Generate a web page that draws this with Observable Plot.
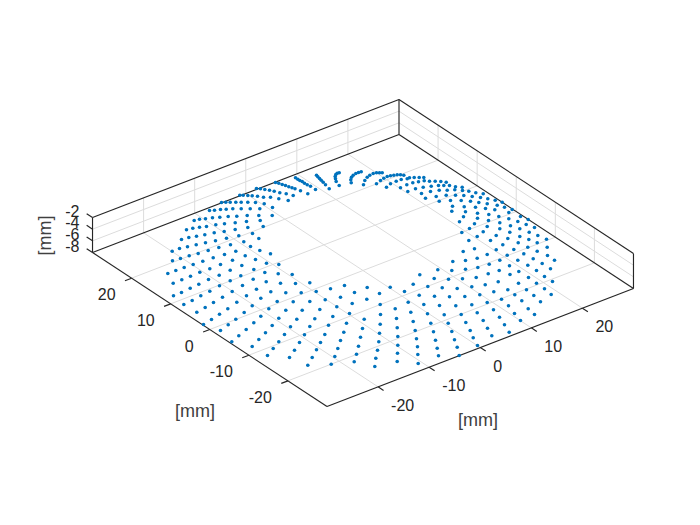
<!DOCTYPE html>
<html>
<head>
<meta charset="utf-8">
<script src="https://cdn.jsdelivr.net/npm/d3@7"></script>
<script src="https://cdn.jsdelivr.net/npm/@observablehq/plot@0.6"></script>
<style>html,body{margin:0;padding:0;background:#fff}svg{display:block}</style>
</head>
<body>
<div id="chart"></div>
<script>
// Axis values in mm
const xTicks = [-20, -10, 0, 10, 20];
const yTicks = [-20, -10, 0, 10, 20];
const zTicks = [-2, -4, -6, -8];
const xRange = [-30, 30];
const yRange = [-30, 30];
const zRange = [-8, -2];
const axisUnit = "[mm]";

const dotReadings = [
[275,182],[278.3,182.7],[281.7,184],[285,185],[288.3,186.3],[291.5,187.3],[294.5,188.3],[300,190.3],[307.3,193.3],
[256,188],[260,188.3],[264.3,189],[269,189.7],[273.7,190.7],[279.3,192.3],[285.7,193.3],[292.7,195],
[239.3,194.7],[242.7,194.7],[247.3,195],[251.7,195.3],[257,195.7],[263,196.7],[270,196.7],[278.3,198.3],[287.7,200],
[221,202],[225.3,201.7],[229.7,201.7],[235.3,201.7],[240.7,201.7],[247.3,201.7],[255,202],[263.7,203.3],[272,207],
[209,210],[214,209.7],[220,209],[225.7,208.7],[232.3,208.3],[240.7,208.3],[249.7,208.3],[259.3,208.3],
[193.7,220],[199,218.7],[205,218.3],[212,217.3],[219.3,216.7],[227.7,216],[236.3,215.7],[246.7,215],[258.3,215],[271.7,215],
[186,229.3],[192.3,227.7],[199,226.7],[206,226],[215.3,224.3],[224,223.3],[234.7,222.3],[246,221],[259.7,220],
[181,239],[188.3,237],[196,235.7],[204.3,234.3],[213.7,232.3],[223.7,231],[234.7,229],[247.3,227],[262.7,226],
[226,237.7],[238.3,235.3],[252,233],[258.3,238],
[295,177.3],[297.3,178.7],[299.3,180],[301.7,181],[304,182.7],[306.7,184.3],[310,185.7],[315,189],
[316,174.7],[317.3,176.3],[319,178],[320.7,179.7],[322.7,181.7],[325,184.3],[328.7,188.3],
[338.7,172.3],[336.7,172.7],[335.3,174],[334.7,176],[335,178.3],[335.7,181],[338.7,185],
[360.7,171.3],[358,172],[355.3,173],[352.7,174.7],[351,176.7],[350.3,179.3],[350.7,182.3],
[381.7,172.3],[379,172.3],[376,172.3],[372.7,173],[369.3,174.7],[366.7,176.7],[364.3,180],[363,184.3],
[403.3,174.7],[400,174.3],[396.7,174.3],[393.3,174.7],[390,175.3],[386.7,176],[383.3,177.7],[380,180],[376,183.3],
[406.7,178.3],[400.7,179],[395.7,180.7],[390,183.3],[386,186.7],
[409,177.3],[413.7,177],[418.7,177],[423.3,177],
[412.3,182.3],[418,181.3],[423.7,180.3],[429,180.7],[434.7,180.7],[440.3,181],[445.7,181.7],
[400,187.3],[406.3,184.3],[415,188.3],[422.7,186.7],[430.7,185.7],[438,185],[443.3,185],[449,185],[455,186.3],[461.7,186.7],
[407.3,191],[421,193],[430,191],[438.7,189.7],[446.7,189.7],[454.3,189.3],[462,190],[468.3,190.7],[475.3,192.3],[482.7,193.3],
[425,197.7],[435.7,196],[445.7,194.7],[455,194.7],[463.3,195],[471.7,196],[480,197],[487.3,198.3],[494.7,199.7],[501.7,201.7],
[438.7,200.7],[450,200],[460.7,200],[470,200.7],[478.3,202],[486.7,203.3],[496.7,204.7],[504,206.7],
[452,205.7],[463.7,206.3],[475,206.7],[485,208],[494.3,209.3],[511.7,209],
[451.3,210.7],[465,211.3],[477,212.7],[488.3,214],[498.3,216],[508.3,212],[520,216],
[463,216.3],[477,217.7],[488,220],[508.3,218.3],[517.3,221],[527.7,219],
[459,221.3],[474,223.3],[486.7,226],[499.3,222.3],[499.3,228.3],[510,225.3],[519.3,228.3],[525.7,224],[534,227],
[469,228],[482.7,231.3],[495.7,235],[507.3,238],[509.3,231.7],[519.3,236],[528.7,231.7],[537.3,235],[546,238.7],
[461.3,232],[476.7,236],[490,240],[502.3,244.3],[517.7,242.3],[528.3,239],[536.7,242.3],[546.7,246.7],
[468.3,240],[474,248.3],[486.7,254],[495.7,249.3],[506.7,254.7],[513.3,249],[523.3,253.3],[527.3,246.7],[536.7,250.7],[547,255],
[462.7,251],[476.7,257.7],[465,260],[452.3,261],[499.3,259.7],[517.3,259.7],[532.7,258.3],[541.7,263],[554,259.7],[550,268.3],
[527.3,264.7],[509,265.3],[518.3,271],[498.7,270],[487.7,273.3],[488.7,263.7],[477.3,267],[465,268.7],[451.3,270],[437.3,269.3],[419.3,274.3],
[433.7,278],[448,278.7],[462,278.3],[475.7,277],[528,277],[544,276],[536,270],[509.5,274],
[171.7,250.7],[179,248],[187,246.3],[195.7,244.3],[205,242.3],[215,240.3],
[172,260.3],[180,258],[188.7,255.3],[197.7,253],[207.7,250],[218.3,247],[230,244.3],[243.3,241.3],
[167.3,273],[175.3,270],[183.7,267],[192.7,264],[202.3,260.7],[212.7,257.3],[224,254],[235.3,250.7],[250,246],[259.3,250],[270,253.3],
[172.7,282.7],[181.3,279.3],[190,275.7],[199.3,271.7],[209.3,268.3],[220,264],[232,259.7],[244.7,255.3],[255,259],[266,262.7],[278.3,264],
[173,295.3],[181,292],[189.7,287.7],[198.3,283.7],[208,279],[218.7,274.7],[229.7,269.7],[241.3,265],[253.3,269],[264.3,272],[277.7,273.3],[291.7,274],
[183.3,304],[191.7,300],[200.3,295.3],[209.3,290.7],[219,285.3],[229.7,280.3],[240.3,275.3],[252.7,278.7],[265.7,281.3],[280,282.7],[295,283],[309.3,282.3],
[196.3,311.7],[204.7,307],[213,302],[222,296.7],[231.7,291],[242,285],[256,288.7],[270.3,291.3],[285.3,292.3],[300.7,292.3],[315.7,291],[330,288.3],
[203,324],[211,319],[219,313.7],[227.3,308.3],[236.3,301.7],[246,295.3],
[220,330],[227.7,324.3],[235.3,318.7],[243.7,312],[251.7,305.3],[260.3,297.7],
[231.3,341.3],[238.3,335.3],[245.7,329],[253.3,322.3],[260.3,315.7],[268.3,308.3],[276.7,301],
[251.7,346],[258.3,339],[265,332.3],[271.7,325],[278.3,317.7],[285.3,309.7],
[267,355],[272.7,348],[278.3,341.3],[284,334],[290,326.3],[296.3,318.7],[301.7,309.7],[309.3,301],
[289,357],[294,349.7],[299,342],[304,334.3],[309.3,326],[314.3,318.3],[319.3,309],
[307.3,364.7],[311.7,357],[316,349.3],[320,342],[324.3,334],[328,324.7],[332.3,316],[336.3,306.3],[340,296.7],
[330.7,363.7],[334.3,356],[337.3,348],[340,340],[292.7,301.3],[324.7,299.3],
[344,285],[366.7,287],[389.7,286.7],[412.7,283.7],
[427.3,286],[441.7,287.3],[456.7,288],[471.3,286.3],[484.7,284.3],[497.7,281.3],[518,282.7],[536,282.7],[552,281],
[354,292],[379,293],[404,291],[418.7,294.7],[434,295.7],[449,296.3],[464.3,296],[479.3,294.3],[493.3,291.3],[507.3,289.3],[526,289.3],[544,288.3],
[351.7,303],[366.3,298.7],[379.7,304],[394.7,308.3],[407.7,301.7],[423.3,304],[439,305],[455.3,305.3],[471.3,304.3],[486.7,302],[501,298.7],[514.3,294.3],[533.3,295],[550.7,294],
[349,313],[363.7,318.7],[380,314],[396,318],[410.3,311.7],[427,313.3],[443.7,314.3],[460.7,314],[476.7,312.3],[493,309.3],[508,305.3],[521.3,300.3],[540,301.3],
[346,322.7],[362,328],[379.7,323.7],[396.7,327.3],[412.7,321],[430.3,322.7],[447.7,322.7],[465.3,322],[482.7,320],[499,316.7],[514,313],[527.7,308.3],
[343.3,331.7],[360,336.7],[379,332.7],[397.3,336],[414.7,330],[433,331.3],[451.3,331],[469.7,330],[487,327.7],[504,324.3],[520,320],[534,314],
[358,345.7],[378.3,341.3],[397.3,344.7],[416,338.3],[435,339.7],[454,339.3],[472.7,337.3],[491.3,335.3],[508.7,331.7],
[356,353.7],[377,349.7],[397,352.7],[417,346.3],[436.7,347.7],[456.7,346.7],[477,345],
[353.7,361.3],[375.3,357.7],[396.7,361],[417.3,354],[438,355.3],[458.7,355],
[374.3,366],[417.7,363]
];

// View of the 3D box, as seen in the picture
const view = {x0: 362.5, y0: 270, xu: 5.108, xv: -1.967, yu: -3.908, yv: -2.567, zv: -5.83};
const project = (x, y, z) => [
  view.x0 + view.xu * x + view.yu * y,
  view.y0 + view.xv * x + view.yv * y + view.zv * (z - zRange[0])
];
const seg = (a, b) => {
  const p = project(...a), q = project(...b);
  return {x1: p[0], y1: p[1], x2: q[0], y2: q[1]};
};
const [xa, xb] = xRange, [ya, yb] = yRange, [za, zb] = zRange;

const gridSegs = [
  ...xTicks.flatMap(t => [seg([t, ya, za], [t, yb, za]), seg([t, yb, za], [t, yb, zb])]),
  ...yTicks.flatMap(t => [seg([xa, t, za], [xb, t, za]), seg([xb, t, za], [xb, t, zb])]),
  ...zTicks.slice(1, 3).flatMap(t => [seg([xa, yb, t], [xb, yb, t]), seg([xb, yb, t], [xb, ya, t])])
];
const boxSegs = [
  seg([xa, yb, za], [xa, ya, za]), seg([xa, ya, za], [xb, ya, za]),
  seg([xa, yb, za], [xb, yb, za]), seg([xb, yb, za], [xb, ya, za]),
  seg([xa, yb, zb], [xb, yb, zb]), seg([xb, yb, zb], [xb, ya, zb]),
  seg([xa, yb, za], [xa, yb, zb]), seg([xb, yb, za], [xb, yb, zb]), seg([xb, ya, za], [xb, ya, zb])
];
const tickSegs = [
  ...xTicks.map(t => seg([t, ya, za], [t, ya - 1.4, za])),
  ...yTicks.map(t => seg([xa, t, za], [xa - 1.3, t, za])),
  ...zTicks.map(t => seg([xa, yb, t], [xa, yb + 1.5, t]))
];
const labelAt = (t, p) => ({t: String(t), px: p[0], py: p[1]});
const xLabels = xTicks.map(t => labelAt(t, project(t, ya, za)));
const yLabels = yTicks.map(t => labelAt(t, project(xa, t, za)));
const zLabels = zTicks.map(t => labelAt(t, project(xa, yb, t)));

const textStyle = {fill: "#262626", fontFamily: "Liberation Sans, Arial, sans-serif"};
const tickText = {...textStyle, fontSize: 16};
const unitText = {...textStyle, fontSize: 18, fill: "#404040"};
const links = (d, stroke, w) => Plot.link(d, {x1: "x1", y1: "y1", x2: "x2", y2: "y2", stroke, strokeWidth: w});

const chart = Plot.plot({
  width: 700, height: 525,
  margin: 0,
  x: {domain: [0, 700], range: [0, 700], axis: null},
  y: {domain: [0, 525], range: [0, 525], axis: null},
  style: {background: "#fff"},
  marks: [
    links(gridSegs, "#dcdcdc", 1),
    links(boxSegs, "#262626", 1.15),
    links(tickSegs, "#262626", 1.15),
    Plot.dot(dotReadings, {x: d => d[0], y: d => d[1], r: 1.8, fill: "#0072BD", stroke: "none"}),
    Plot.text(xLabels, {x: "px", y: "py", text: "t", textAnchor: "start", dx: 13, dy: 19, ...tickText}),
    Plot.text(yLabels, {x: "px", y: "py", text: "t", textAnchor: "end", dx: -16, dy: 17, ...tickText}),
    Plot.text(zLabels, {x: "px", y: "py", text: "t", textAnchor: "end", dx: -13, dy: -6, ...tickText}),
    Plot.text([axisUnit], {x: () => 194.5, y: () => 411, text: d => d, ...unitText}),
    Plot.text([axisUnit], {x: () => 477.5, y: () => 419.5, text: d => d, ...unitText}),
    Plot.text([axisUnit], {x: () => 45, y: () => 235, text: d => d, rotate: -90, ...unitText})
  ]
});
document.getElementById("chart").appendChild(chart);
</script>
</body>
</html>
